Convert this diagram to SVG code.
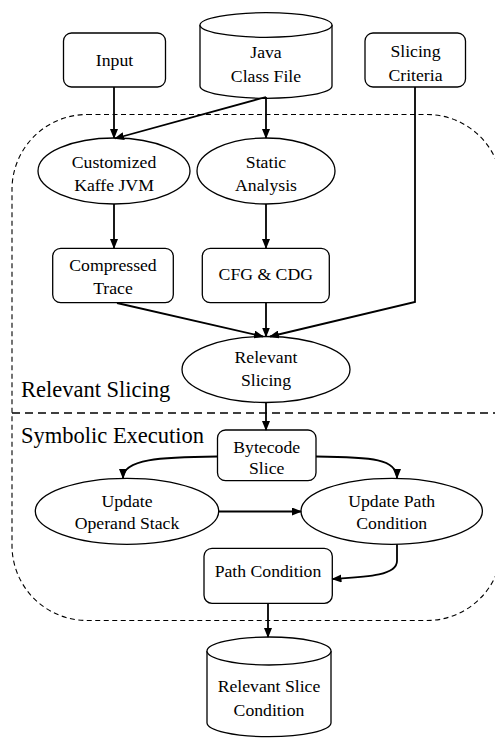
<svg xmlns="http://www.w3.org/2000/svg" width="495" height="738" viewBox="0 0 495 738">
  <style>
    .shape { fill: #ffffff; stroke: #000000; stroke-width: 1.3; }
    .lbl { font-family: 'Liberation Serif', 'Times New Roman', Times, 'DejaVu Serif', serif; font-size: 17.7px; fill: #000000; text-anchor: middle; }
    .region { font-family: 'Liberation Serif', 'Times New Roman', Times, 'DejaVu Serif', serif; font-size: 22.5px; fill: #000000; }
    .edge { fill: none; stroke: #000000; stroke-width: 1.8; marker-end: url(#arrow); }
    .boundary { fill: none; stroke: #000000; stroke-width: 1.1; stroke-dasharray: 5 3.5; }
    .divider { fill: none; stroke: #000000; stroke-width: 1.3; stroke-dasharray: 8 5; }
  </style>
  <defs>
    <marker id="arrow" markerUnits="userSpaceOnUse" markerWidth="10" markerHeight="8" refX="9" refY="4" orient="auto">
      <path d="M0 0 L10 4 L0 8 Z" fill="#000000"/>
    </marker>
  </defs>

  <rect width="495" height="738" fill="#ffffff"/>

  <!-- dashed pipeline boundary and the split between the two stages -->
  <g id="regions">
    <rect class="boundary" x="12" y="114.5" width="490" height="506" rx="75" ry="75"/>
    <line class="divider" x1="12" y1="413" x2="495" y2="413"/>
    <text class="region" x="21" y="396.5" font-family="Liberation Serif, serif">Relevant Slicing</text>
    <text class="region" x="21" y="443" font-family="Liberation Serif, serif">Symbolic Execution</text>
  </g>

  <g id="input">
    <rect class="shape" x="63.5" y="33" width="102" height="54" rx="8"/>
    <text class="lbl" x="114.5" y="66">Input</text>
  </g>

  <g id="java-class-file">
    <path class="shape" d="M200 25 L200 86 A66 12.3 0 0 0 332 86 L332 25"/>
    <ellipse class="shape" cx="266" cy="25" rx="66" ry="12.3"/>
    <text class="lbl" x="266" y="58.3">Java</text>
    <text class="lbl" x="266" y="82.3">Class File</text>
  </g>

  <g id="slicing-criteria">
    <rect class="shape" x="365" y="33" width="100.5" height="54" rx="8"/>
    <text class="lbl" x="415.5" y="57.3">Slicing</text>
    <text class="lbl" x="415.5" y="80.7">Criteria</text>
  </g>

  <g id="customized-kaffe-jvm">
    <ellipse class="shape" cx="114" cy="171" rx="76" ry="33"/>
    <text class="lbl" x="114" y="168.3">Customized</text>
    <text class="lbl" x="114" y="190.7">Kaffe JVM</text>
  </g>

  <g id="static-analysis">
    <ellipse class="shape" cx="266" cy="171" rx="69" ry="33"/>
    <text class="lbl" x="266" y="168.3">Static</text>
    <text class="lbl" x="266" y="190.7">Analysis</text>
  </g>

  <g id="compressed-trace">
    <rect class="shape" x="52.7" y="248.3" width="120.6" height="54.4" rx="8"/>
    <text class="lbl" x="113" y="271">Compressed</text>
    <text class="lbl" x="113" y="294">Trace</text>
  </g>

  <g id="cfg-cdg">
    <rect class="shape" x="202.3" y="248.3" width="127" height="54.4" rx="8"/>
    <text class="lbl" x="265.8" y="280">CFG &amp; CDG</text>
  </g>

  <g id="relevant-slicing">
    <ellipse class="shape" cx="266" cy="369.5" rx="84" ry="33"/>
    <text class="lbl" x="266" y="363.3">Relevant</text>
    <text class="lbl" x="266" y="386">Slicing</text>
  </g>

  <g id="bytecode-slice">
    <rect class="shape" x="217.5" y="430" width="98.5" height="50.7" rx="8"/>
    <text class="lbl" x="266.7" y="452.7">Bytecode</text>
    <text class="lbl" x="266.7" y="474">Slice</text>
  </g>

  <g id="update-operand-stack">
    <ellipse class="shape" cx="127" cy="511.3" rx="91.7" ry="33"/>
    <text class="lbl" x="127" y="506.7">Update</text>
    <text class="lbl" x="127" y="529.3">Operand Stack</text>
  </g>

  <g id="update-path-condition">
    <ellipse class="shape" cx="391.7" cy="511.3" rx="90.7" ry="33"/>
    <text class="lbl" x="391.7" y="506.7">Update Path</text>
    <text class="lbl" x="391.7" y="529.3">Condition</text>
  </g>

  <g id="path-condition">
    <rect class="shape" x="204" y="548.3" width="128.3" height="55" rx="8"/>
    <text class="lbl" x="268" y="577.3">Path Condition</text>
  </g>

  <g id="relevant-slice-condition">
    <path class="shape" d="M207 651 L207 722.7 A62 14 0 0 0 331 722.7 L331 651"/>
    <ellipse class="shape" cx="269" cy="651" rx="62" ry="14"/>
    <text class="lbl" x="269" y="692.3">Relevant Slice</text>
    <text class="lbl" x="269" y="715.7">Condition</text>
  </g>

  <g id="connectors">
    <path class="edge" d="M114 87 L114 138"/>
    <path class="edge" d="M266 97 L115 138.5"/>
    <path class="edge" d="M266 97 L266 138"/>
    <path class="edge" d="M114 204 L114 248"/>
    <path class="edge" d="M266 204 L266 248"/>
    <path class="edge" d="M117 303 L263 336.5"/>
    <path class="edge" d="M266 303 L266 336.5"/>
    <path class="edge" d="M415 87 L415 302 L270 336.5"/>
    <path class="edge" d="M266 402.5 L266 430"/>
    <path class="edge" d="M217.5 456.5 C160 457 123 459 123 478"/>
    <path class="edge" d="M316 456.5 C373 457 397 459 397 478"/>
    <path class="edge" d="M218.7 511.5 L301 511.5"/>
    <path class="edge" d="M397 544.3 L397 561 C397 576 365 577 332.5 579"/>
    <path class="edge" d="M268 603.3 L268 637"/>
  </g>
</svg>
